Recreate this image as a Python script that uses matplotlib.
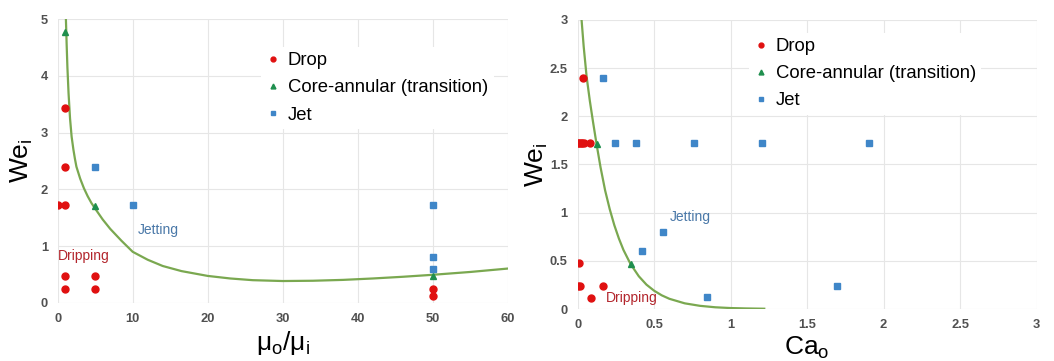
import matplotlib
matplotlib.use("Agg")
import matplotlib.pyplot as plt

plt.rcParams['font.family'] = ['Liberation Sans', 'DejaVu Sans']
plt.rcParams['mathtext.fontset'] = 'custom'
plt.rcParams['mathtext.rm'] = 'Liberation Sans'
plt.rcParams['mathtext.it'] = 'Liberation Sans'
plt.rcParams['mathtext.default'] = 'regular'

# ---- Left panel data: mu_o/mu_i vs We_i ----
L_drop_x = [0, 1, 1, 1, 1, 1, 5, 5, 50, 50]
L_drop_y = [1.72, 1.72, 2.4, 3.43, 0.47, 0.24, 0.47, 0.24, 0.24, 0.12]
L_core_x = [1, 5, 50]
L_core_y = [4.77, 1.7, 0.47]
L_jet_x = [5, 10, 50, 50, 50]
L_jet_y = [2.4, 1.72, 1.72, 0.8, 0.6]
L_curve_x = [1.1, 1.2, 1.3, 1.45, 1.65, 1.86, 2.1, 2.3, 2.5, 3.0, 3.5, 4.0, 4.5, 4.9,
             6, 7, 8.5, 10, 12, 14, 16.5, 20, 23, 26, 30, 34, 38, 42, 46, 50, 55, 60]
L_curve_y = [5.0, 4.55, 4.15, 3.7, 3.25, 2.93, 2.7, 2.54, 2.4, 2.19, 2.02, 1.88, 1.76, 1.68,
             1.47, 1.305, 1.095, 0.9, 0.76, 0.65, 0.56, 0.475, 0.43, 0.40, 0.385, 0.39, 0.405,
             0.43, 0.46, 0.495, 0.545, 0.605]
L_xticks = [0, 10, 20, 30, 40, 50, 60]
L_yticks = [0, 1, 2, 3, 4, 5]

# ---- Right panel data: Ca_o vs We_i ----
R_drop_x = [0, 0.01, 0.02, 0.03, 0.04, 0.08, 0.033, 0.01, 0, 0.015, 0.168, 0.085]
R_drop_y = [1.72, 1.72, 1.72, 1.72, 1.72, 1.72, 2.4, 0.477, 0.24, 0.24, 0.242, 0.114]
R_core_x = [0.124, 0.346]
R_core_y = [1.71, 0.467]
R_jet_x = [0.168, 0.242, 0.38, 0.758, 1.205, 1.904, 0.56, 0.42, 0.847, 1.697]
R_jet_y = [2.40, 1.72, 1.72, 1.72, 1.72, 1.72, 0.80, 0.605, 0.12, 0.242]
R_curve_x = [0.026, 0.04, 0.059, 0.08, 0.1, 0.124, 0.15, 0.18, 0.21, 0.24, 0.27, 0.3, 0.346,
             0.4, 0.45, 0.5, 0.55, 0.6, 0.7, 0.8, 0.9, 1.0, 1.1, 1.22]
R_curve_y = [3.0, 2.72, 2.41, 2.16, 1.95, 1.71, 1.47, 1.23, 1.036, 0.87, 0.731, 0.612, 0.467,
             0.34, 0.253, 0.19, 0.142, 0.106, 0.059, 0.033, 0.018, 0.01, 0.006, 0.003]
R_ticks = [0, 0.5, 1, 1.5, 2, 2.5, 3]
R_ticklabels = ['0', '0.5', '1', '1.5', '2', '2.5', '3']

RED = '#e01010'
GREEN = '#1f8f4e'
BLUE = '#3f86c8'
CURVE = '#7aa850'
TICKC = '#505050'
GRIDC = '#e6e6e6'

fig = plt.figure(figsize=(10.54, 3.61), dpi=100)
axL = fig.add_axes([0.0547, 0.161, 0.4272, 0.786])
axR = fig.add_axes([0.548, 0.144, 0.4355, 0.801])


def style(ax):
    for s in ax.spines.values():
        s.set_visible(False)
    ax.grid(True, color=GRIDC, lw=0.8)
    ax.set_axisbelow(True)
    ax.tick_params(length=0, labelsize=9.3, labelcolor=TICKC, pad=7)
    for lab in ax.get_xticklabels() + ax.get_yticklabels():
        lab.set_fontweight('bold')


def draw(ax, cx, cy, dx, dy, tx, ty, jx, jy):
    ax.plot(cx, cy, color=CURVE, lw=1.6, zorder=2, solid_joinstyle='round')
    ax.plot(dx, dy, 'o', color=RED, ms=5, ls='none', label='Drop', zorder=3)
    ax.plot(tx, ty, '^', color=GREEN, ms=5, ls='none', label='Core-annular (transition)', zorder=3)
    ax.plot(jx, jy, 's', color=BLUE, ms=4.8, ls='none', label='Jet', zorder=3)


def legend(ax, anchor):
    leg = ax.legend(loc='upper left', bbox_to_anchor=anchor, frameon=True,
                    fontsize=13.3, markerscale=0.7, handlelength=0.7, handletextpad=0.45,
                    labelspacing=0.55, borderpad=0.3, borderaxespad=0)
    leg.get_frame().set_edgecolor('none')
    leg.get_frame().set_facecolor('white')
    leg.get_frame().set_alpha(1)
    return leg


# Left
draw(axL, L_curve_x, L_curve_y, L_drop_x, L_drop_y, L_core_x, L_core_y, L_jet_x, L_jet_y)
axL.set_xlim(0, 60)
axL.set_ylim(0, 5)
axL.set_xticks(L_xticks)
axL.set_yticks(L_yticks)
style(axL)
axL.set_xlabel(r'$μ_o/μ_i$', fontsize=19, labelpad=3)
axL.set_ylabel(r'$We_i$', fontsize=19, labelpad=4)
axL.text(0, 0.83, 'Dripping', color='#b3262d', fontsize=10, va='center', ha='left')
axL.text(10.7, 1.29, 'Jetting', color='#4a78a8', fontsize=10, va='center', ha='left')
legend(axL, (0.452, 0.903))

# Right
draw(axR, R_curve_x, R_curve_y, R_drop_x, R_drop_y, R_core_x, R_core_y, R_jet_x, R_jet_y)
axR.set_xlim(0, 3)
axR.set_ylim(0, 3)
axR.set_xticks(R_ticks)
axR.set_xticklabels(R_ticklabels)
axR.set_yticks(R_ticks)
axR.set_yticklabels(R_ticklabels)
style(axR)
axR.set_xlabel(r'$Ca_o$', fontsize=19, labelpad=3)
axR.set_ylabel(r'$We_i$', fontsize=19, labelpad=0)
axR.text(0.185, 0.117, 'Dripping', color='#b3262d', fontsize=10, va='center', ha='left')
axR.text(0.603, 0.95, 'Jetting', color='#4a78a8', fontsize=10, va='center', ha='left')
legend(axR, (0.373, 0.956))

fig.savefig('out.png', dpi=100)
